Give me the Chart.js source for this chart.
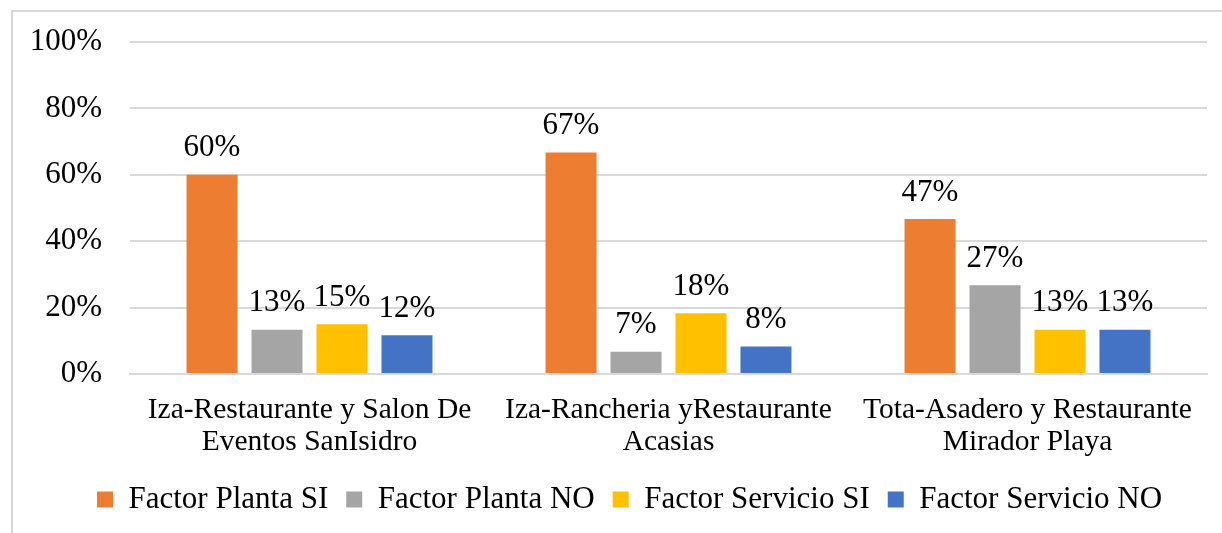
<!DOCTYPE html>
<html>
<head>
<meta charset="utf-8">
<script src="https://cdn.jsdelivr.net/npm/chart.js@4/dist/chart.umd.min.js"></script>
<style>
    html, body { margin: 0; padding: 0; background: #fff; }
    #wrap { position: relative; width: 1222px; height: 533px; overflow: hidden; }
    #frame { position: absolute; left: 11px; top: 10px; width: 1300px; height: 600px;
             border-left: 2px solid #d9d9d9; border-top: 2px solid #d9d9d9; box-sizing: border-box; }
    canvas { position: absolute; left: 0; top: 0; }
</style>
</head>
<body>
<div id="wrap">
    <div id="frame"></div>
    <canvas id="chart" width="1222" height="533"></canvas>
</div>
<script>
// datos
const categories = [
    ['Iza-Restaurante y Salon De', 'Eventos SanIsidro'],
    ['Iza-Rancheria yRestaurante', 'Acasias'],
    ['Tota-Asadero y Restaurante', 'Mirador Playa']
];
const plantaSi = [60, 66.7, 46.7];
const plantaNo = [13.3, 6.7, 26.7];
const servicioSi = [15, 18.3, 13.3];
const servicioNo = [11.7, 8.3, 13.3];
const yTicks = [0, 20, 40, 60, 80, 100];

const fontFamily = "'Liberation Serif', 'Times New Roman', serif";
const fontSize = 31;

// etiquetas encima de las barras
const barLabels = {
    id: 'barLabels',
    afterLayout(chart) {
        // la leyenda del original está algo desplazada a la derecha
        chart.legend.left += 20;
        chart.legend.right += 20;
    },
    afterDatasetsDraw(chart) {
        const ctx = chart.ctx;
        ctx.save();
        ctx.font = fontSize + 'px ' + fontFamily;
        ctx.fillStyle = '#000';
        ctx.textAlign = 'center';
        ctx.textBaseline = 'bottom';
        chart.data.datasets.forEach((ds, i) => {
            chart.getDatasetMeta(i).data.forEach((bar, j) => {
                ctx.fillText(Math.round(ds.data[j]) + '%', bar.x, bar.y - 11);
            });
        });
        ctx.restore();
    }
};

const ctx = document.getElementById('chart').getContext('2d');
const chart = new Chart(ctx, {
    type: 'bar',
    data: {
        labels: categories,
        datasets: [
            { label: 'Factor Planta SI', data: plantaSi, backgroundColor: '#ED7D31' },
            { label: 'Factor Planta NO', data: plantaNo, backgroundColor: '#A5A5A5' },
            { label: 'Factor Servicio SI', data: servicioSi, backgroundColor: '#FFC000' },
            { label: 'Factor Servicio NO', data: servicioNo, backgroundColor: '#4472C4' }
        ]
    },
    options: {
        responsive: false,
        animation: false,
        categoryPercentage: 0.724,
        barPercentage: 0.785,
        layout: { padding: { left: 12, right: 15, top: 42, bottom: 8 } },
        plugins: {
            legend: {
                position: 'bottom',
                labels: {
                    boxWidth: 16,
                    boxHeight: 16,
                    padding: 18,
                    color: '#000',
                    font: { family: fontFamily, size: fontSize }
                }
            },
            tooltip: { enabled: false }
        },
        scales: {
            x: {
                grid: { display: false },
                border: { color: '#d9d9d9', width: 2 },
                ticks: {
                    color: '#000',
                    padding: 12,
                    maxRotation: 0,
                    font: { family: fontFamily, size: 29.5, lineHeight: 1.09 }
                },
                afterFit(scale) { scale.height = 92; }
            },
            y: {
                min: 0,
                max: 100,
                afterBuildTicks(scale) { scale.ticks = yTicks.map(v => ({ value: v })); },
                grid: { color: '#d9d9d9', lineWidth: 2, drawTicks: false },
                border: { display: false },
                ticks: {
                    color: '#000',
                    padding: 28,
                    font: { family: fontFamily, size: fontSize },
                    callback: v => v + '%'
                },
                afterFit(scale) {
                    scale.width = 118;
                    scale.paddingTop = 0;
                    scale.paddingBottom = 0;
                }
            }
        }
    },
    plugins: [barLabels]
});
</script>
</body>
</html>
